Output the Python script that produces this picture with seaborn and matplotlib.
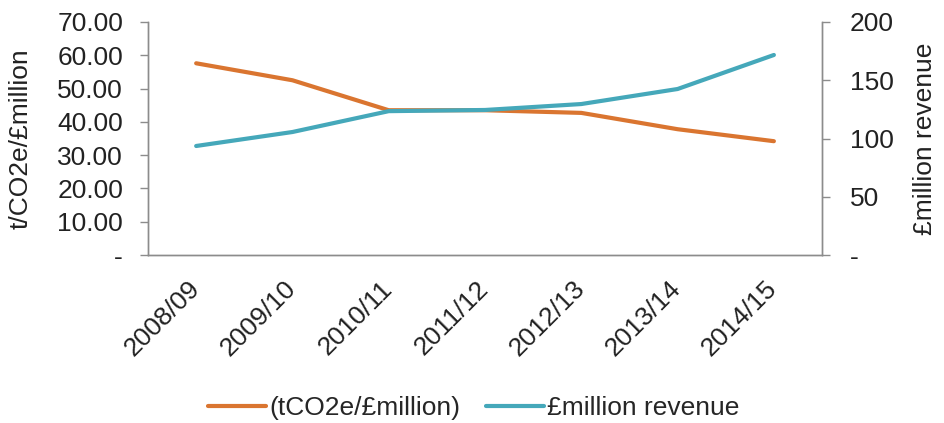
import matplotlib
matplotlib.use("Agg")
import matplotlib.pyplot as plt
import seaborn as sns
import pandas as pd
from matplotlib.ticker import FixedLocator, FuncFormatter
from matplotlib.transforms import ScaledTranslation

years = ["2008/09", "2009/10", "2010/11", "2011/12", "2012/13", "2013/14", "2014/15"]
intensity = [57.6, 52.5, 43.5, 43.5, 42.7, 37.8, 34.2]
revenue = [93.6, 105.6, 123.5, 124.5, 129.6, 142.5, 171.7]

sns.set_theme(style="white")
plt.rcParams["font.family"] = ["Liberation Sans", "DejaVu Sans"]

orange = "#DA7530"
teal = "#45A8BA"
grey = "#8C8C8C"
txt = "#222222"
fs = 19

df = pd.DataFrame({"year": years, "intensity": intensity, "revenue": revenue})

fig = plt.figure(figsize=(9.44, 4.23), dpi=100)
ax = fig.add_axes([0.1568, 0.397, 0.714, 0.551])
ax2 = ax.twinx()

sns.lineplot(data=df, x="year", y="intensity", ax=ax, color=orange, lw=3, sort=False,
             label="(tCO2e/£million)", legend=False)
sns.lineplot(data=df, x="year", y="revenue", ax=ax2, color=teal, lw=3, sort=False,
             label="£million revenue", legend=False)

n = len(years)
ax.set_xlim(-0.5, n - 0.5)
ax.set_ylim(0, 70)
ax2.set_ylim(0, 200)

ax.set_xticks(range(n))
ax.xaxis.set_minor_locator(FixedLocator([i - 0.5 for i in range(n + 1)]))
ax.tick_params(axis="x", which="major", length=0, pad=15.5)
ax.tick_params(axis="x", which="minor", length=6, color=grey, width=1)

ax.set_yticks(range(0, 71, 10))
ax.yaxis.set_major_formatter(FuncFormatter(lambda v, p: "-" if v == 0 else f"{v:.2f}"))
ax.tick_params(axis="y", length=6, color=grey, width=1, labelsize=fs, labelcolor=txt, left=True, pad=12)

ax2.set_yticks(range(0, 201, 50))
ax2.yaxis.set_major_formatter(FuncFormatter(lambda v, p: "-" if v == 0 else f"{int(v)}"))
ax2.tick_params(axis="y", length=6, color=grey, width=1, labelsize=fs, labelcolor=txt, right=True, pad=14)

ax.set_xticklabels(years, rotation=45, ha="right", rotation_mode="anchor", fontsize=fs, color=txt)
offset = ScaledTranslation(-9 / 100, 0, fig.dpi_scale_trans)
for lab in ax.get_xticklabels():
    lab.set_transform(lab.get_transform() + offset)

ax.set_xlabel("")
ax.set_ylabel("t/CO2e/£million", fontsize=fs, color=txt, labelpad=18)
ax2.set_ylabel("£million revenue", fontsize=fs, color=txt, labelpad=14)

for a in (ax, ax2):
    a.spines["top"].set_visible(False)
    for s in ("left", "right", "bottom"):
        a.spines[s].set_color(grey)
        a.spines[s].set_linewidth(1)
    a.grid(False)

h1, l1 = ax.get_legend_handles_labels()
h2, l2 = ax2.get_legend_handles_labels()
fig.legend(h1 + h2, l1 + l2, loc="center", bbox_to_anchor=(0.502, 0.035), ncol=2, frameon=False,
           fontsize=fs, handlelength=2.2, columnspacing=1.0, handletextpad=0.1)

fig.savefig("out.png", dpi=100)
